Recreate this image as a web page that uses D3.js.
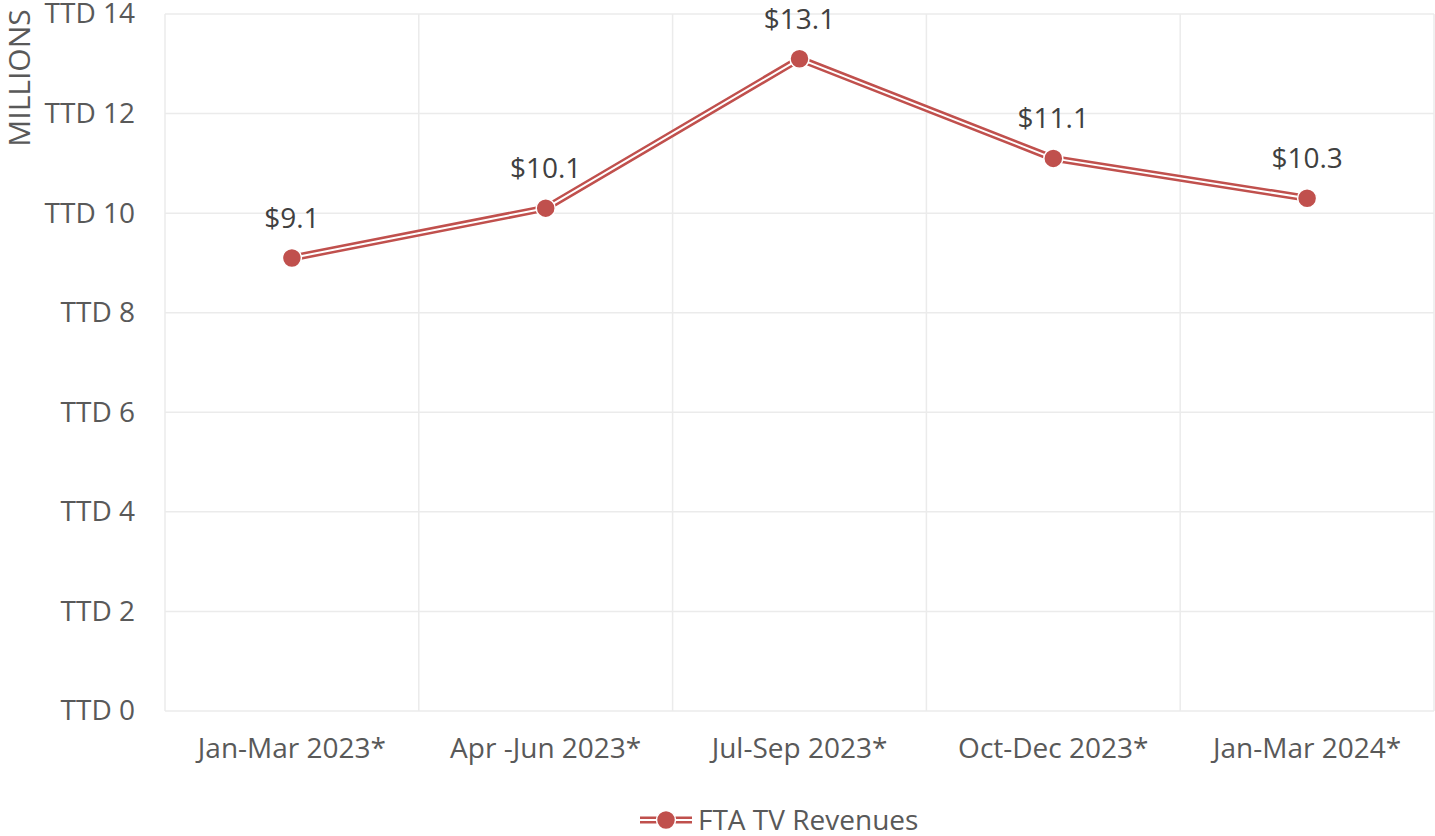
<!DOCTYPE html>
<html>
<head>
<meta charset="utf-8">
<script src="https://cdn.jsdelivr.net/npm/d3@7"></script>
<style>
  html, body { margin: 0; padding: 0; background: #fff; }
  svg { display: block; font-family: "Open Sans", "Noto Sans", sans-serif; }
</style>
</head>
<body>
<svg id="chart" width="1435" height="836"></svg>
<script>
// Quarterly free-to-air TV revenues (TTD millions)
const categories = ["Jan-Mar 2023*", "Apr -Jun 2023*", "Jul-Sep 2023*", "Oct-Dec 2023*", "Jan-Mar 2024*"];
const revenues = [9.1, 10.1, 13.1, 11.1, 10.3];
const yTicks = [0, 2, 4, 6, 8, 10, 12, 14];
const seriesName = "FTA TV Revenues";

const W = 1435, H = 836;
const margin = { top: 14, right: 1, bottom: 125, left: 165 };
const red = "#c0504d";
const textCol = "#595959";
const gridCol = "#ebebeb";
const fontSize = "28px";

const svg = d3.select("#chart");
const x = d3.scaleBand().domain(categories).range([margin.left, W - margin.right]);
const y = d3.scaleLinear().domain([0, 14]).range([H - margin.bottom, margin.top]);

// horizontal gridlines
svg.append("g")
  .selectAll("line").data(yTicks).join("line")
  .attr("x1", margin.left).attr("x2", W - margin.right)
  .attr("y1", d => y(d)).attr("y2", d => y(d))
  .attr("stroke", gridCol).attr("stroke-width", 1.5);

// vertical gridlines at band boundaries
const bounds = categories.map(c => x(c)).concat([x(categories[categories.length - 1]) + x.bandwidth()]);
svg.append("g")
  .selectAll("line").data(bounds).join("line")
  .attr("x1", d => d).attr("x2", d => d)
  .attr("y1", y(14)).attr("y2", y(0))
  .attr("stroke", gridCol).attr("stroke-width", 1.5);

// y-axis labels
const yAxis = d3.axisLeft(y).tickValues(yTicks).tickSize(0).tickPadding(30)
  .tickFormat(d => "TTD " + d);
svg.append("g").attr("transform", `translate(${margin.left},0)`).call(yAxis)
  .call(g => g.select(".domain").remove())
  .selectAll("text").attr("fill", textCol).style("font-size", fontSize)
  .style("font-family", "'Open Sans', sans-serif");

// x-axis labels
const xAxis = d3.axisBottom(x).tickSize(0).tickPadding(27);
svg.append("g").attr("transform", `translate(0,${y(0)})`).call(xAxis)
  .call(g => g.select(".domain").remove())
  .selectAll("text").attr("fill", textCol).style("font-size", fontSize)
  .style("font-family", "'Open Sans', sans-serif");

// axis title
svg.append("text")
  .attr("transform", `translate(30,78) rotate(-90)`)
  .attr("text-anchor", "middle")
  .attr("fill", textCol).style("font-size", "30px")
  .text("MILLIONS");

// double line: red outer stroke with white core
const cx = c => x(c) + x.bandwidth() / 2;
const pts = categories.map((c, i) => [cx(c), y(revenues[i])]);
const line = d3.line();
svg.append("path").attr("d", line(pts)).attr("fill", "none")
  .attr("stroke", red).attr("stroke-width", 7).attr("stroke-linejoin", "round");
svg.append("path").attr("d", line(pts)).attr("fill", "none")
  .attr("stroke", "#fff").attr("stroke-width", 2).attr("stroke-linejoin", "round");

// markers
svg.append("g").selectAll("circle").data(pts).join("circle")
  .attr("cx", d => d[0]).attr("cy", d => d[1]).attr("r", 9.5)
  .attr("fill", red).attr("stroke", "#fff").attr("stroke-width", 1.5);

// data labels
svg.append("g").selectAll("text").data(revenues).join("text")
  .attr("x", (d, i) => cx(categories[i]))
  .attr("y", d => y(d) - 30)
  .attr("text-anchor", "middle")
  .attr("fill", "#404040").style("font-size", fontSize)
  .text(d => "$" + d.toFixed(1));

// legend
const lg = svg.append("g").attr("transform", `translate(640,820)`);
lg.append("line").attr("x1", 0).attr("x2", 52).attr("y1", 0).attr("y2", 0)
  .attr("stroke", red).attr("stroke-width", 7);
lg.append("line").attr("x1", 0).attr("x2", 52).attr("y1", 0).attr("y2", 0)
  .attr("stroke", "#fff").attr("stroke-width", 2);
lg.append("circle").attr("cx", 26).attr("cy", 0).attr("r", 9.5)
  .attr("fill", red).attr("stroke", "#fff").attr("stroke-width", 1.5);
lg.append("text").attr("x", 58).attr("y", 0).attr("dy", "0.35em")
  .attr("fill", textCol).style("font-size", fontSize).text(seriesName);
</script>
</body>
</html>
